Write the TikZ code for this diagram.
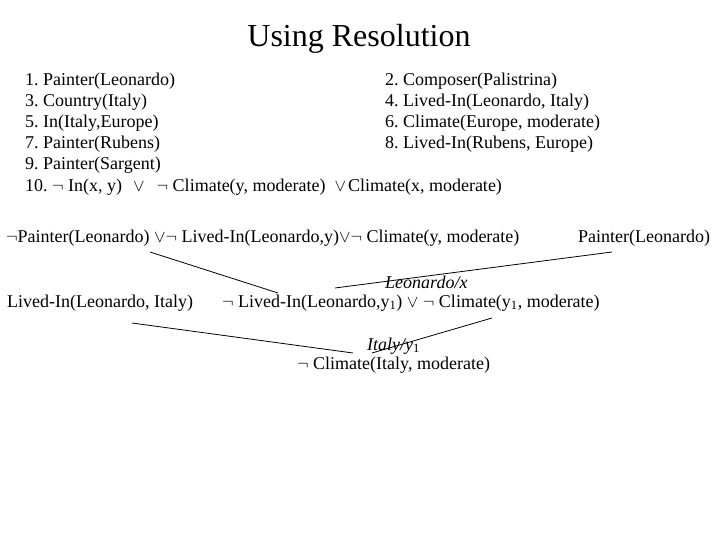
\documentclass[tikz,border=0pt]{standalone}
\usepackage{fontspec}
\setmainfont{Liberation Serif}
\frenchspacing
\newcommand{\orr}{\ensuremath{\vee}}
\newcommand{\nott}{\ensuremath{\neg}}
\begin{document}
\begin{tikzpicture}[x=1pt,y=-1pt,
  txt/.style={inner sep=0pt, anchor=base west, font=\fontsize{18pt}{21pt}\selectfont\frenchspacing},
  sub/.style={inner sep=0pt, anchor=base west, font=\fontsize{18pt}{21pt}\selectfont\itshape},
  conn/.style={line width=0.8pt}]
\useasboundingbox (0,0) rectangle (720,540);
\node[inner sep=0pt, anchor=base, font=\fontsize{32pt}{36pt}\selectfont] (title) at (359,47) {Using Resolution};
\node[txt] (c1) at (25,86) {1. Painter(Leonardo)};
\node[txt] (c2) at (385,86) {2. Composer(Palistrina)};
\node[txt] (c3) at (25,107) {3. Country(Italy)};
\node[txt] (c4) at (385,107) {4. Lived-In(Leonardo, Italy)};
\node[txt] (c5) at (25,128) {5. In(Italy,Europe)};
\node[txt] (c6) at (385,128) {6. Climate(Europe, moderate)};
\node[txt] (c7) at (25,149) {7. Painter(Rubens)};
\node[txt] (c8) at (385,149) {8. Lived-In(Rubens, Europe)};
\node[txt] (c9) at (25,170) {9. Painter(Sargent)};
\node[txt] (c10) at (25,192) {10. \nott{} In(x, y)\hspace{11pt}\orr\hspace{12pt}\nott{} Climate(y, moderate)\hspace{9pt}\orr\hspace{2pt}Climate(x, moderate)};
\node[txt] (r1) at (6,242) {\nott{}Painter(Leonardo) \orr\nott{} Lived-In(Leonardo,y)\orr\nott{} Climate(y, moderate)};
\node[txt] (r2) at (578,242) {Painter(Leonardo)};
\node[txt] (r3) at (7,307) {Lived-In(Leonardo, Italy)};
\node[txt] (r4) at (222,307) {\nott{} Lived-In(Leonardo,y\textsubscript{1}) \orr{} \nott{} Climate(y\textsubscript{1}, moderate)};
\node[sub] (s1) at (385,288) {Leonardo/x};
\node[sub] (s2) at (367,350) {Italy/y\textsubscript{\upshape 1}};
\node[txt] (r5) at (297,369) {\nott{} Climate(Italy, moderate)};
\coordinate (a1) at (150,252);
\coordinate (a2) at (278,293);
\coordinate (b1) at (612,252);
\coordinate (b2) at (335,288);
\coordinate (d1) at (132,323);
\coordinate (d2) at (353,353);
\coordinate (e1) at (492,318);
\coordinate (e2) at (372,353);
\draw[conn] (a1) -- (a2);
\draw[conn] (b1) -- (b2);
\draw[conn] (d1) -- (d2);
\draw[conn] (e1) -- (e2);
\end{tikzpicture}
\end{document}
